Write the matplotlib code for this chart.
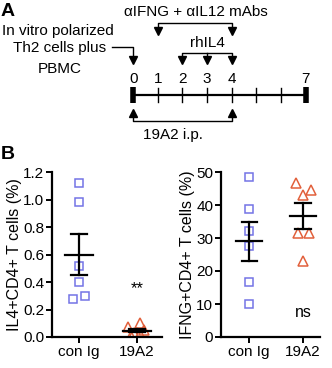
import matplotlib
matplotlib.use("Agg")
import matplotlib.pyplot as plt
import numpy as np

plt.rcParams['font.family'] = ['Liberation Sans', 'DejaVu Sans']

# ---------------- data ----------------
groups = ["con Ig", "19A2"]
il4_conig = [1.12, 0.98, 0.52, 0.40, 0.28, 0.30]
il4_19a2 = [0.10, 0.07, 0.05, 0.03, 0.01, 0.02]
ifng_conig = [48.6, 38.7, 32.2, 27.6, 16.6, 10.0]
ifng_19a2 = [46.7, 43.1, 44.4, 31.6, 31.4, 22.9]
il4_ticks = [0.0, 0.2, 0.4, 0.6, 0.8, 1.0, 1.2]
ifng_ticks = [0, 10, 20, 30, 40, 50]
sig_left = "**"
sig_right = "ns"

timeline_days = [0, 1, 2, 3, 4, 5, 6, 7]
labeled_days = [0, 1, 2, 3, 4, 7]
transfer_day = 0
mab_days = [1, 4]
rhil4_days = [2, 3, 4]
ab19a2_days = [0, 4]

# jitter (layout)
jit_il4_conig = [0, 0, 0, 0, -0.11, 0.11]
jit_il4_19a2 = [0.05, -0.15, 0.12, -0.05, -0.10, 0.05]
jit_ifng_conig = [0, 0, 0, 0, 0, 0]
jit_ifng_19a2 = [-0.13, 0.0, 0.15, -0.09, 0.11, 0.0]

BLUE = "#7474e6"
RED = "#e2603c"

W, H = 332, 368
fig = plt.figure(figsize=(W / 100, H / 100), dpi=100)

# ---------------- panel A ----------------
d0_px, px_per_day = 133.3, 24.6
axA = fig.add_axes([0, 1 - 170 / H, 1, 170 / H])
axA.set_xlim(-d0_px / px_per_day, (W - d0_px) / px_per_day)
axA.set_ylim(170, 0)
axA.axis("off")
def px(x):
    return (x - d0_px) / px_per_day

fs = 11
# timeline
axA.plot([timeline_days[0], timeline_days[-1]], [95, 95], color="k", lw=1.6, solid_capstyle="butt")
for d in timeline_days[1:-1]:
    axA.plot([d, d], [88, 102], color="k", lw=1.0)
for d in (timeline_days[0], timeline_days[-1]):
    axA.plot([d, d], [87, 103], color="k", lw=4.0, solid_capstyle="butt")
for d in labeled_days:
    axA.text(d, 79, str(d), ha="center", va="center", fontsize=fs)

arrow_kw = dict(marker="v", color="k", markersize=5.5, linestyle="none")
# transfer arrow
axA.plot([px(112), transfer_day, transfer_day], [46.7, 46.7, 58], color="k", lw=1.0)
axA.plot([transfer_day], [60], **arrow_kw)
axA.text(px(2), 30.5, "In vitro polarized", ha="left", va="center", fontsize=fs)
axA.text(px(60), 48, "Th2 cells plus", ha="center", va="center", fontsize=fs)
axA.text(px(60), 69, "PBMC", ha="center", va="center", fontsize=fs)

# mAbs bracket
axA.plot([mab_days[0], mab_days[0], mab_days[1], mab_days[1]], [29, 22.7, 22.7, 29], color="k", lw=1.0)
axA.plot(mab_days, [31, 31], **arrow_kw)
axA.text(np.mean(mab_days) + 0.05, 12, "\u03b1IFNG + \u03b1IL12 mAbs", ha="center", va="center", fontsize=fs)

# rhIL4 bracket
axA.plot([rhil4_days[0], rhil4_days[0], rhil4_days[-1], rhil4_days[-1]], [58, 52.7, 52.7, 58], color="k", lw=1.0)
for d in rhil4_days[1:-1]:
    axA.plot([d, d], [52.7, 58], color="k", lw=1.0)
axA.plot(rhil4_days, [60] * len(rhil4_days), **arrow_kw)
axA.text(rhil4_days[1], 43, "rhIL4", ha="center", va="center", fontsize=fs)

# 19A2 bracket
axA.plot([ab19a2_days[0], ab19a2_days[0], ab19a2_days[1], ab19a2_days[1]], [115, 120.7, 120.7, 115], color="k", lw=1.0)
axA.plot(ab19a2_days, [113, 113], marker="^", color="k", markersize=5.5, linestyle="none")
axA.text(px(173), 135, "19A2 i.p.", ha="center", va="center", fontsize=fs)

axA.text(px(1), 11, "A", ha="left", va="center", fontsize=14, fontweight="bold")
axA.text(px(1), 155, "B", ha="left", va="center", fontsize=14, fontweight="bold")

# ---------------- panel B ----------------
def scatter_panel(ax, ctrl, trt, jc, jt, ticks, ylab, sig, sig_y, xlim, fmt, sig_fs):
    xc = np.array(jc) + 0
    xt = np.array(jt) + 1
    ax.plot(xc, ctrl, linestyle="none", marker="s", markersize=6, mfc="none", mec=BLUE, mew=1.1)
    ax.plot(xt, trt, linestyle="none", marker="^", markersize=6.5, mfc="none", mec=RED, mew=1.1)
    for i, vals in enumerate([ctrl, trt]):
        v = np.array(vals)
        m = v.mean()
        s = v.std(ddof=1) / np.sqrt(len(v))
        ax.plot([i - 0.24, i + 0.24], [m, m], color="k", lw=1.6)
        ax.plot([i, i], [m - s, m + s], color="k", lw=1.6)
        ax.plot([i - 0.14, i + 0.14], [m + s, m + s], color="k", lw=1.6)
        ax.plot([i - 0.14, i + 0.14], [m - s, m - s], color="k", lw=1.6)
    ax.text(1, sig_y, sig, ha="center", va="center", fontsize=sig_fs)
    ax.set_xlim(*xlim)
    ax.set_ylim(ticks[0], ticks[-1])
    ax.set_yticks(ticks)
    ax.set_yticklabels([fmt.format(t) for t in ticks], fontsize=11)
    ax.set_xticks([0, 1])
    ax.set_xticklabels(groups, fontsize=11)
    ax.set_ylabel(ylab, fontsize=11.5, labelpad=1)
    for sp in ("top", "right"):
        ax.spines[sp].set_visible(False)
    for sp in ("left", "bottom"):
        ax.spines[sp].set_linewidth(1.6)
    ax.tick_params(width=1.4, length=4, pad=1.5)
    ax.patch.set_alpha(0)
    for sp in ax.spines.values():
        sp.set_clip_on(False)

yb = 1 - 337 / H
ht = (337 - 172) / H
axL = fig.add_axes([52 / W, yb, 110 / W, ht])
scatter_panel(axL, il4_conig, il4_19a2, jit_il4_conig, jit_il4_19a2, il4_ticks,
              "IL4+CD4+ T cells (%)", sig_left, 0.355, (-0.466, 1.431), "{:.1f}", 12)
axR = fig.add_axes([221 / W, yb, 99 / W, ht])
scatter_panel(axR, ifng_conig, ifng_19a2, jit_ifng_conig, jit_ifng_19a2, ifng_ticks,
              "IFNG+CD4+ T cells (%)", sig_right, 7.5, (-0.52, 1.315), "{:d}", 11.5)

fig.savefig("out.png", dpi=100)
